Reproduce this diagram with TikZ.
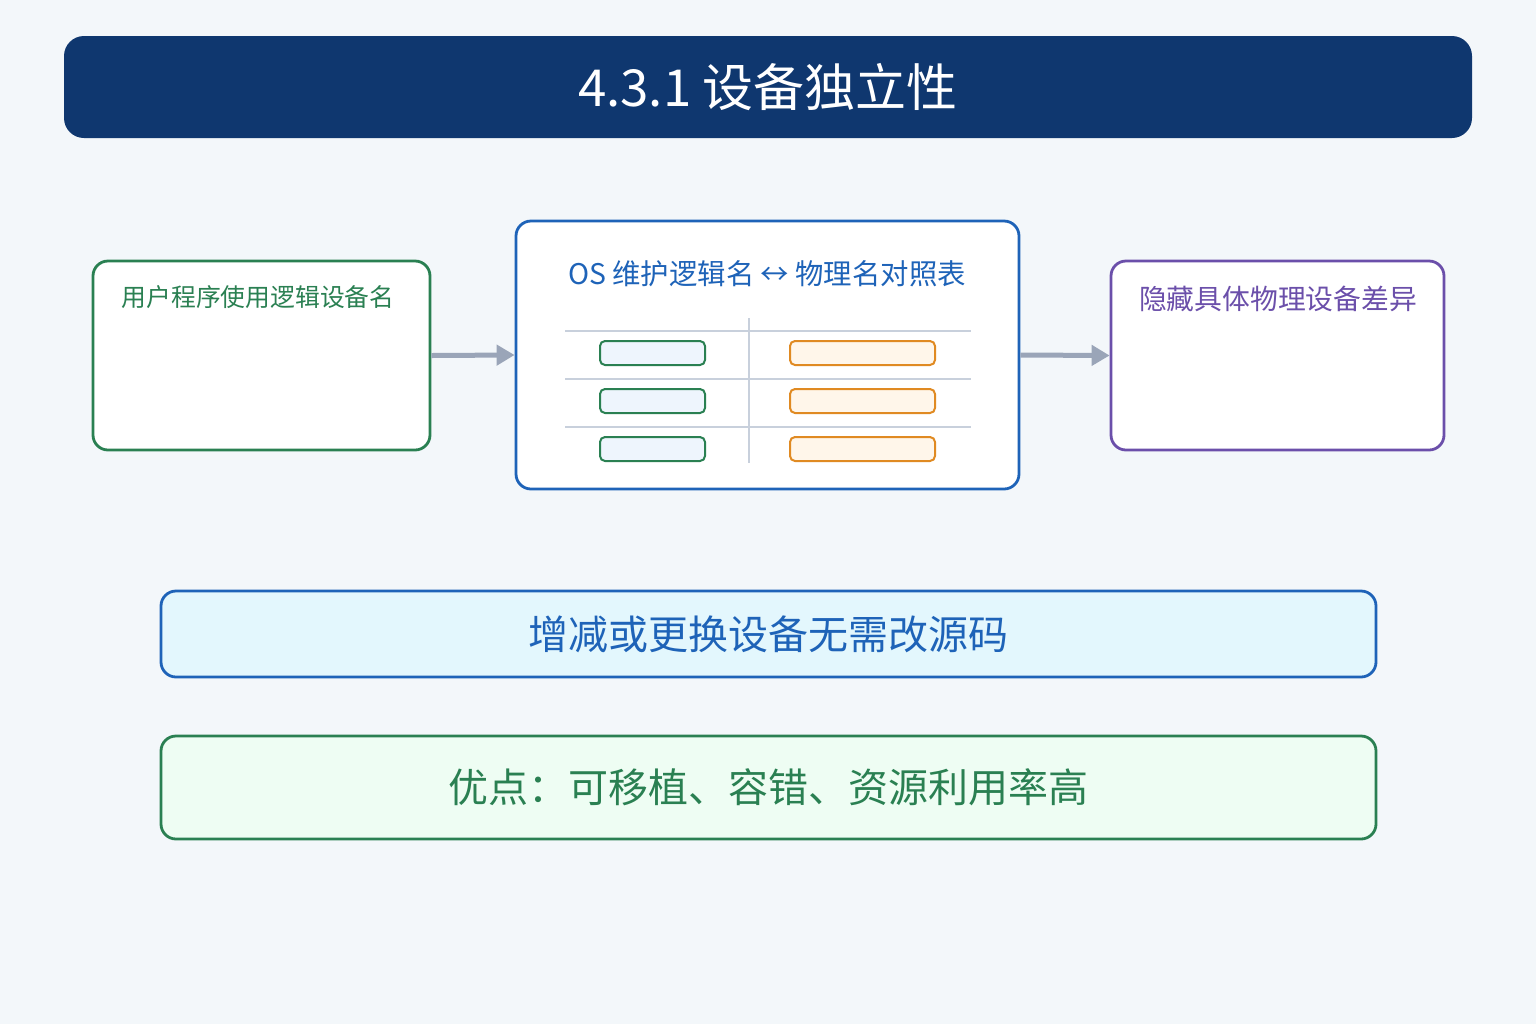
\documentclass[tikz,border=0pt]{standalone}
\usepackage{fontspec}
\usepackage{xcolor}
\usetikzlibrary{arrows.meta,positioning}
\newfontfamily\cjk{Noto Sans CJK SC}
\definecolor{pagebg}{HTML}{F3F7FA}
\definecolor{navy}{HTML}{0F376F}
\definecolor{ruleblue}{HTML}{1E63B8}
\definecolor{rulegreen}{HTML}{2A8052}
\definecolor{rulepurple}{HTML}{6B4FAA}
\definecolor{ruleorange}{HTML}{E08A22}
\definecolor{gridgray}{HTML}{C8D0DC}
\definecolor{arrowgray}{HTML}{9AA5B8}
\definecolor{cellblue}{HTML}{EEF5FD}
\definecolor{cellorange}{HTML}{FFF6EA}
\definecolor{cyanbg}{HTML}{E3F7FD}
\definecolor{mintbg}{HTML}{EEFDF3}
\tikzset{
  titlebar/.style={fill=navy,rounded corners=10pt,minimum width=704pt,minimum height=51pt,
                   inner sep=0pt,text=white,font=\cjk\fontsize{25.5pt}{30pt}\selectfont},
  panel/.style={fill=white,line width=1.4pt,rounded corners=7.5pt,inner sep=0pt},
  panelhead/.style={inner sep=0pt,anchor=center},
  bandbox/.style={line width=1.4pt,rounded corners=7.5pt,minimum width=607.5pt,
                  inner sep=0pt,font=\cjk\fontsize{20pt}{24pt}\selectfont},
  logcell/.style={draw=rulegreen,fill=cellblue,line width=1pt,rounded corners=2.5pt,
                  minimum width=52.5pt,minimum height=12pt,inner sep=0pt},
  phycell/.style={draw=ruleorange,fill=cellorange,line width=1pt,rounded corners=2.5pt,
                  minimum width=72.5pt,minimum height=12pt,inner sep=0pt},
  gridline/.style={draw=gridgray,line width=1pt},
  maparr/.style={-{Triangle[length=9pt,width=10pt]},draw=arrowgray,line width=2.5pt}
}

\begin{document}
\begin{tikzpicture}[x=0.5pt,y=-0.5pt]
  \fill[pagebg] (0,0) rectangle (1536,1024);
  \useasboundingbox (0,0) rectangle (1536,1024);

  \node[titlebar] (title) at (768,87) {4.3.1 设备独立性};

  % three panels
  \node[panel,draw=rulegreen,minimum width=168.5pt,minimum height=94.5pt] (user) at (261.5,355.5) {};
  \node[panel,draw=ruleblue,minimum width=251.5pt,minimum height=134pt] (os) at (767.5,355) {};
  \node[panel,draw=rulepurple,minimum width=166.5pt,minimum height=94.5pt] (hide) at (1277.5,355.5) {};

  \node[panelhead,text=rulegreen,font=\cjk\fontsize{12.4pt}{15pt}\selectfont] (usertxt) at (258,297) {用户程序使用逻辑设备名};
  \node[panelhead,text=ruleblue,font=\cjk\fontsize{14.2pt}{17pt}\selectfont] (ostxt) at (767,274) {OS 维护逻辑名 ↔ 物理名对照表};
  \node[panelhead,text=rulepurple,font=\cjk\fontsize{13.9pt}{17pt}\selectfont] (hidetxt) at (1278,299) {隐藏具体物理设备差异};

  % mapping table
  \coordinate (colt) at (749,318);
  \coordinate (colb) at (749,463);
  \draw[gridline] (colt) -- (colb);
  \foreach \r/\y in {1/355,2/403,3/451} {
    \coordinate (rl\r) at (565,\y-24);
    \coordinate (rr\r) at (971,\y-24);
    \draw[gridline] (rl\r) -- (rr\r);
    \node[logcell] (log\r) at (652.5,\y-2) {};
    \node[phycell] (phy\r) at (862.5,\y-2) {};
  }

  \draw[maparr] (user.east) -- (os.west);
  \draw[maparr] (os.east) -- (hide.west);

  \node[bandbox,draw=ruleblue,fill=cyanbg,text=ruleblue,minimum height=43pt] (swap) at (768.5,634) {增减或更换设备无需改源码};
  \node[bandbox,draw=rulegreen,fill=mintbg,text=rulegreen,minimum height=51.5pt] (gain) at (768.5,787.5) {优点：可移植、容错、资源利用率高};
\end{tikzpicture}
\end{document}
